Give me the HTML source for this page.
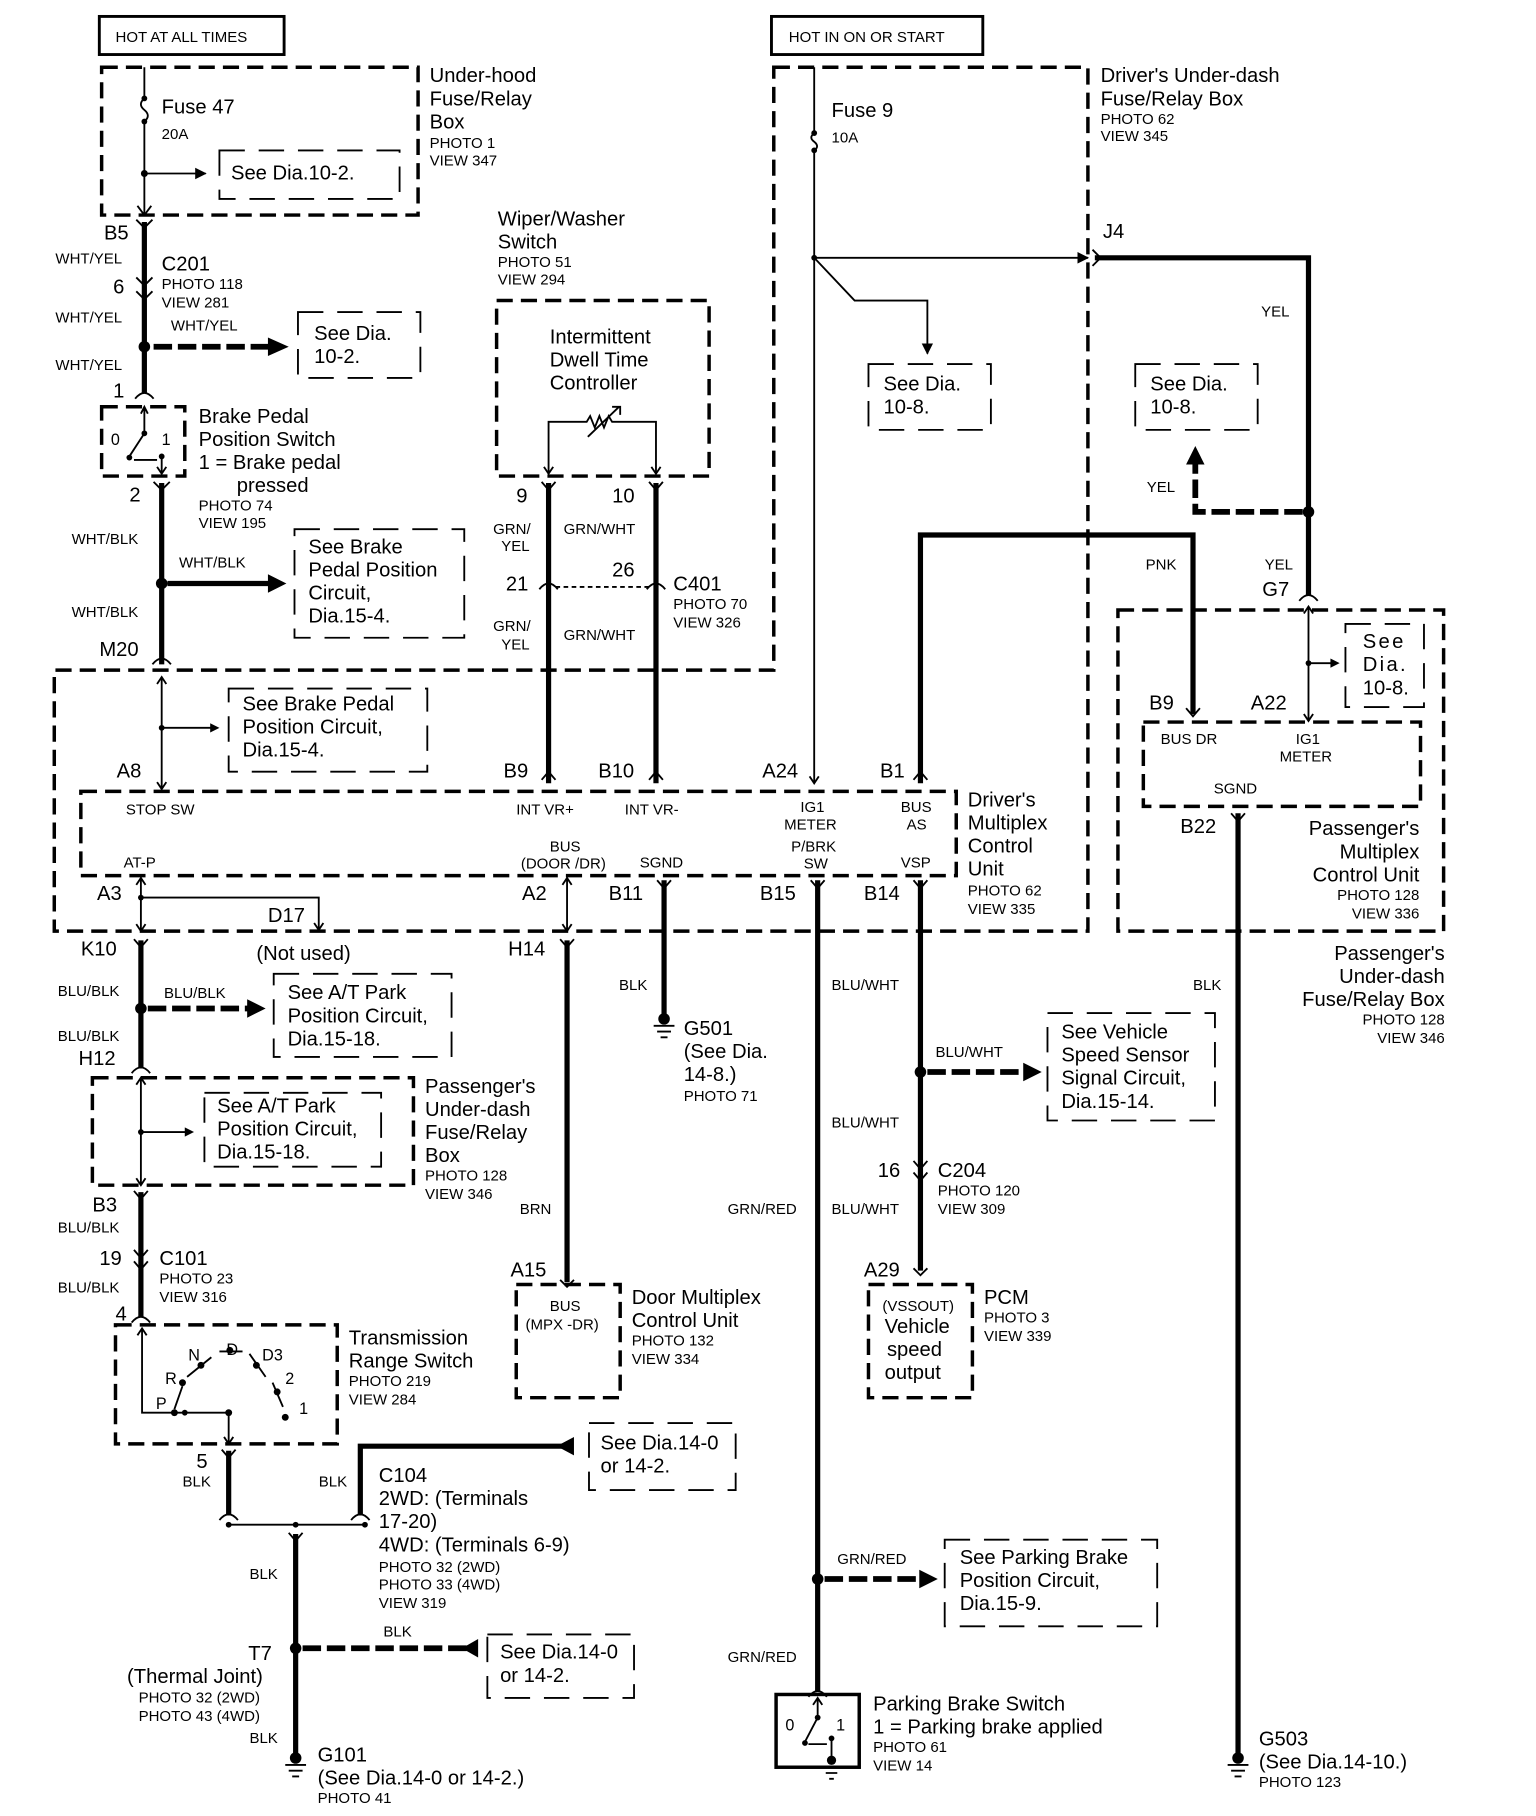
<!DOCTYPE html>
<html><head><meta charset="utf-8"><style>
html,body{margin:0;padding:0;background:#fff}
svg{display:block}
text{font-family:"Liberation Sans",Arial,sans-serif;fill:#000}
.L{font-size:17.5px}
.S{font-size:13px}
.M{font-size:14px}
.w{stroke:#000;stroke-width:4.5;fill:none}
.t{stroke:#000;stroke-width:1.6;fill:none}
.d{stroke:#000;stroke-width:3;fill:none;stroke-dasharray:14,7}
.dl{stroke:#000;stroke-width:1.6;fill:none;stroke-dasharray:22,12}
.dw{stroke:#000;stroke-width:5;fill:none;stroke-dasharray:16,5}
</style></head><body>
<svg width="1536" height="1816" viewBox="0 0 1330 1572" xmlns="http://www.w3.org/2000/svg">
<defs>
<marker id="a" markerWidth="10" markerHeight="10" refX="9" refY="5" orient="auto" markerUnits="userSpaceOnUse"><path d="M0,0 L10,5 L0,10 z"/></marker>
<marker id="A" markerWidth="16" markerHeight="16" refX="15" refY="8" orient="auto" markerUnits="userSpaceOnUse"><path d="M0,0 L16,8 L0,16 z"/></marker>
<marker id="o" markerWidth="12" markerHeight="12" refX="6" refY="1" orient="auto" markerUnits="userSpaceOnUse"><path d="M1,7 L6,1 L11,7" stroke="#000" stroke-width="1.5" fill="none"/></marker>
</defs>
<g>
<!-- top boxes -->
<rect x="86" y="14" width="160" height="33" fill="none" stroke="#000" stroke-width="2.5"/>
<text x="100" y="36" class="S">HOT AT ALL TIMES</text>
<rect x="668" y="14" width="183" height="33" fill="none" stroke="#000" stroke-width="2.5"/>
<text x="683" y="36" class="S">HOT IN ON OR START</text>

<!-- under-hood -->
<rect x="88" y="58" width="274" height="128" class="d"/>
<text class="L" x="372" y="71">Under-hood</text><text class="L" x="372" y="91">Fuse/Relay</text><text class="L" x="372" y="111">Box</text>
<text class="S" x="372" y="128">PHOTO 1</text><text class="S" x="372" y="143">VIEW 347</text>
<path class="t" d="M125,58 V85 M125,105 V185"/>
<path class="t" d="M125,85 q-6,5 0,10 q6,5 0,10"/>
<circle cx="125" cy="85" r="2.5"/><circle cx="125" cy="105" r="2.5"/><circle cx="125" cy="150" r="3"/>
<text class="L" x="140" y="98">Fuse 47</text><text class="S" x="140" y="120">20A</text>
<path class="t" d="M125,150 H178" marker-end="url(#a)"/>
<path class="dl" d="M190,130 H346 V172 H190 Z"/>
<text class="L" x="200" y="155">See Dia.10-2.</text>
<path class="t" d="M119,178 L125,186 L131,178"/>

<!-- B5 wire -->
<path class="w" d="M125,192 V340"/>
<path class="t" d="M118,190 L125,197 L132,190 M118,240 L125,247 L132,240 M118,252 L125,259 L132,252 M117,345 q8,-10 16,0" stroke-width="3"/>
<text class="L" x="90" y="207">B5</text>
<text class="S" x="48" y="228">WHT/YEL</text>
<text class="L" x="140" y="234">C201</text><text class="S" x="140" y="250">PHOTO 118</text><text class="S" x="140" y="266">VIEW 281</text>
<text class="L" x="98" y="254">6</text>
<text class="S" x="48" y="279">WHT/YEL</text><text class="S" x="148" y="286">WHT/YEL</text><text class="S" x="48" y="320">WHT/YEL</text>
<text class="L" x="98" y="344">1</text>
<circle cx="125" cy="300" r="5"/>
<path class="dw" d="M133,300 H240"/><path d="M232,292 L250,300 L232,308 z"/>
<path class="dl" d="M258,270 H364 V327 H258 Z"/>
<text class="L" x="272" y="294">See Dia.</text><text class="L" x="272" y="314">10-2.</text>

<!-- brake pedal switch -->
<rect x="88" y="352" width="72" height="60" class="d"/>
<path class="t" d="M125,352 V375 L112,395 M122,358 L125,352 L128,358 M140,395 V410 M136,404 L140,410 L144,404 M116,398 H136"/>
<circle cx="125" cy="375" r="2.5"/><circle cx="112" cy="396" r="2.5"/><circle cx="140" cy="395" r="2.5"/>
<text class="M" x="96" y="385">0</text><text class="M" x="140" y="385">1</text>
<text class="L" x="172" y="366">Brake Pedal</text><text class="L" x="172" y="386">Position Switch</text><text class="L" x="172" y="406">1 = Brake pedal</text><text class="L" x="205" y="426">pressed</text>
<text class="S" x="172" y="442">PHOTO 74</text><text class="S" x="172" y="457">VIEW 195</text>
<text class="L" x="112" y="434">2</text>
<path class="w" d="M140,418 V575"/>
<path class="t" d="M133,417 L140,424 L147,417 M132,575 q8,-10 16,0" stroke-width="3"/>
<text class="S" x="62" y="471">WHT/BLK</text><text class="S" x="155" y="491">WHT/BLK</text><text class="S" x="62" y="534">WHT/BLK</text>
<text class="L" x="86" y="568">M20</text>
<circle cx="140" cy="505" r="5"/>
<path class="w" d="M145,505 H235"/><path d="M232,497 L248,505 L232,513 z"/>
<path class="dl" d="M255,458 H402 V552 H255 Z"/>
<text class="L" x="267" y="479">See Brake</text><text class="L" x="267" y="499">Pedal Position</text><text class="L" x="267" y="519">Circuit,</text><text class="L" x="267" y="539">Dia.15-4.</text>

<!-- wiper -->
<text class="L" x="431" y="195">Wiper/Washer</text><text class="L" x="431" y="215">Switch</text>
<text class="S" x="431" y="231">PHOTO 51</text><text class="S" x="431" y="246">VIEW 294</text>
<rect x="430" y="260" width="184" height="152" class="d"/>
<text class="L" x="476" y="297">Intermittent</text><text class="L" x="476" y="317">Dwell Time</text><text class="L" x="476" y="337">Controller</text>
<path class="t" d="M475,410 V365 H508 l3,-5 l4,10 l4,-10 l4,10 l4,-10 l3,5 H568 V410 M509,378 L536,352 M530,352 H537 V359"/>
<path class="t" d="M471,404 L475,410 L479,404 M564,404 L568,410 L572,404"/>
<path class="w" d="M475,418 V678 M568,418 V678"/>
<path class="t" stroke-width="3" d="M469,417 L475,424 L481,417 M562,417 L568,424 L574,417 M467,510 q8,-10 16,0 M560,510 q8,-10 16,0 M469,675 L475,668 L481,675 M562,675 L568,668 L574,675"/>
<path class="t" d="M481,508 H562" stroke-dasharray="4,3"/>
<text class="L" x="447" y="435">9</text><text class="L" x="530" y="435">10</text>
<text class="S" x="427" y="462">GRN/</text><text class="S" x="434" y="477">YEL</text><text class="S" x="488" y="462">GRN/WHT</text>
<text class="L" x="438" y="511">21</text><text class="L" x="530" y="499">26</text>
<text class="L" x="583" y="511">C401</text><text class="S" x="583" y="527">PHOTO 70</text><text class="S" x="583" y="543">VIEW 326</text>
<text class="S" x="427" y="546">GRN/</text><text class="S" x="434" y="562">YEL</text><text class="S" x="488" y="554">GRN/WHT</text>

<!-- driver's under-dash outline -->
<path class="d" d="M670,58 H942 V806 H47 V580 H670 Z"/>
<text class="L" x="953" y="71">Driver's Under-dash</text><text class="L" x="953" y="91">Fuse/Relay Box</text>
<text class="S" x="953" y="107">PHOTO 62</text><text class="S" x="953" y="122">VIEW 345</text>
<path class="t" d="M705,58 V115 M705,130 V678"/>
<path class="t" d="M705,115 q-5,4 0,7.5 q5,4 0,7.5"/>
<circle cx="705" cy="115" r="2.5"/><circle cx="705" cy="130" r="2.5"/><circle cx="705" cy="223" r="2.5"/>
<path class="t" d="M701,672 L705,678 L709,672"/>
<text class="L" x="720" y="101">Fuse 9</text><text class="S" x="720" y="123">10A</text>
<path class="t" d="M705,223 H942" marker-end="url(#a)"/>
<path class="t" d="M705,223 L740,260 H803 V306" marker-end="url(#a)"/>
<text class="L" x="955" y="206">J4</text>
<path class="dl" d="M752,315 H858 V372 H752 Z"/>
<text class="L" x="765" y="338">See Dia.</text><text class="L" x="765" y="358">10-8.</text>

<path class="w" d="M948,223 H1133 V515"/>
<path class="t" stroke-width="3" d="M946,216 L953,223 L946,230 M1125,520 q8,-10 16,0"/>
<text class="S" x="1092" y="274">YEL</text>
<circle cx="1133" cy="443" r="5"/>
<path class="dw" d="M1128,443 H1035 V400"/><path d="M1027,402 L1035,386 L1043,402 z"/>
<text class="S" x="993" y="426">YEL</text>
<path class="dl" d="M983,315 H1089 V372 H983 Z"/>
<text class="L" x="996" y="338">See Dia.</text><text class="L" x="996" y="358">10-8.</text>
<text class="S" x="1095" y="493">YEL</text><text class="L" x="1093" y="516">G7</text>

<path class="w" d="M797,678 V463 H1033 V618"/>
<path class="t" stroke-width="3" d="M791,675 L797,668 L803,675 M1027,613 L1033,620 L1039,613"/>
<text class="S" x="992" y="493">PNK</text>

<!-- driver's multiplex -->
<rect x="70" y="685" width="758" height="73" class="d"/>
<g class="S">
<text x="109" y="705">STOP SW</text><text x="447" y="705">INT VR+</text><text x="541" y="705">INT VR-</text>
<text x="693" y="703">IG1</text><text x="679" y="718">METER</text><text x="780" y="703">BUS</text><text x="785" y="718">AS</text>
<text x="107" y="751">AT-P</text><text x="476" y="737">BUS</text><text x="451" y="752">(DOOR /DR)</text><text x="554" y="751">SGND</text>
<text x="685" y="737">P/BRK</text><text x="696" y="752">SW</text><text x="780" y="751">VSP</text>
</g>
<g class="L">
<text x="101" y="673">A8</text><text x="436" y="673">B9</text><text x="518" y="673">B10</text><text x="660" y="673">A24</text><text x="762" y="673">B1</text>
<text x="84" y="779">A3</text><text x="452" y="779">A2</text><text x="527" y="779">B11</text><text x="658" y="779">B15</text><text x="748" y="779">B14</text>
<text x="838" y="698">Driver's</text><text x="838" y="718">Multiplex</text><text x="838" y="738">Control</text><text x="838" y="758">Unit</text>
</g>
<text class="S" x="838" y="775">PHOTO 62</text><text class="S" x="838" y="791">VIEW 335</text>

<path class="t" d="M140,586 V683 M136,592 L140,586 L144,592 M136,677 L140,683 L144,677 M140,630 H188" />
<circle cx="140" cy="630" r="2.5"/><path d="M182,626 L190,630 L182,634z"/>
<path class="dl" d="M198,596 H370 V668 H198 Z"/>
<text class="L" x="210" y="615">See Brake Pedal</text><text class="L" x="210" y="635">Position  Circuit,</text><text class="L" x="210" y="655">Dia.15-4.</text>

<path class="t" d="M122,760 V806 M118,766 L122,760 L126,766 M118,800 L122,806 L126,800 M122,777 H276 V805 M272,799 L276,805 L280,799"/>
<circle cx="122" cy="777" r="2.5"/>
<text class="L" x="232" y="798">D17</text><text class="L" x="222" y="831">(Not used)</text>
<text class="L" x="70" y="827">K10</text>
<path class="w" d="M122,814 V925"/>
<path class="t" stroke-width="3" d="M116,813 L122,820 L128,813 M114,929 q8,-10 16,0"/>
<text class="S" x="50" y="862">BLU/BLK</text><text class="S" x="142" y="864">BLU/BLK</text><text class="S" x="50" y="901">BLU/BLK</text>
<text class="L" x="68" y="922">H12</text>
<circle cx="122" cy="873" r="5"/>
<path class="dw" d="M128,873 H218"/><path d="M214,865 L230,873 L214,881z"/>
<path class="dl" d="M237,843 H391 V915 H237 Z"/>
<text class="L" x="249" y="865">See A/T Park</text><text class="L" x="249" y="885">Position Circuit,</text><text class="L" x="249" y="905">Dia.15-18.</text>

<rect x="80" y="933" width="278" height="93" class="d"/>
<path class="t" d="M122,933 V1026 M118,939 L122,933 L126,939 M118,1020 L122,1026 L126,1020 M122,980 H166"/>
<circle cx="122" cy="980" r="2.5"/><path d="M160,976 L168,980 L160,984z"/>
<path class="dl" d="M177,946 H330 V1010 H177 Z"/>
<text class="L" x="188" y="963">See A/T Park</text><text class="L" x="188" y="983">Position Circuit,</text><text class="L" x="188" y="1003">Dia.15-18.</text>
<text class="L" x="368" y="946">Passenger's</text><text class="L" x="368" y="966">Under-dash</text><text class="L" x="368" y="986">Fuse/Relay</text><text class="L" x="368" y="1006">Box</text>
<text class="S" x="368" y="1022">PHOTO 128</text><text class="S" x="368" y="1038">VIEW 346</text>
<text class="L" x="80" y="1049">B3</text><text class="S" x="50" y="1067">BLU/BLK</text>
<path class="w" d="M122,1032 V1140"/>
<path class="t" stroke-width="3" d="M116,1031 L122,1038 L128,1031 M116,1082 L122,1089 L128,1082 M116,1092 L122,1099 L128,1092 M114,1145 q8,-10 16,0"/>
<text class="L" x="86" y="1095">19</text><text class="L" x="138" y="1095">C101</text>
<text class="S" x="138" y="1111">PHOTO 23</text><text class="S" x="138" y="1127">VIEW 316</text>
<text class="S" x="50" y="1119">BLU/BLK</text><text class="L" x="100" y="1143">4</text>

<!-- trans range switch -->
<rect x="100" y="1147" width="192" height="103" class="d"/>
<text class="L" x="302" y="1164">Transmission</text><text class="L" x="302" y="1184">Range Switch</text>
<text class="S" x="302" y="1200">PHOTO 219</text><text class="S" x="302" y="1216">VIEW 284</text>
<path class="t" d="M123,1150 V1223 H198 M119,1156 L123,1150 L127,1156 M198,1223 V1250 M194,1244 L198,1250 L202,1244 M151,1220 L158,1200 M162,1192 L183,1175 M190,1170 L210,1170 M216,1172 L230,1192 M236,1197 L245,1218"/>
<circle cx="151" cy="1223" r="3"/><circle cx="160" cy="1223" r="2.5"/><circle cx="198" cy="1223" r="3"/><circle cx="158" cy="1197" r="3"/><circle cx="174" cy="1182" r="3"/><circle cx="199" cy="1169" r="3"/><circle cx="222" cy="1182" r="3"/><circle cx="240" cy="1205" r="3"/><circle cx="247" cy="1227" r="3"/>
<g class="M"><text x="163" y="1178">N</text><text x="196" y="1173">D</text><text x="227" y="1178">D3</text><text x="143" y="1198">R</text><text x="247" y="1198">2</text><text x="135" y="1220">P</text><text x="259" y="1224">1</text></g>
<path class="w" d="M198,1256 V1312 M312,1312 V1252 H490"/>
<path d="M497,1244 L482,1252 L497,1260 z"/>
<path class="t" stroke-width="3" d="M192,1255 L198,1262 L204,1255 M190,1316 q8,-10 16,0 M304,1316 q8,-10 16,0"/>
<path class="t" d="M198,1320 H316"/>
<circle cx="198" cy="1320" r="2.5"/><circle cx="256" cy="1320" r="2.5"/><circle cx="316" cy="1320" r="2.5"/>
<text class="L" x="170" y="1271">5</text><text class="S" x="158" y="1287">BLK</text><text class="S" x="276" y="1287">BLK</text>
<path class="dl" d="M510,1232 H637 V1290 H510 Z"/>
<text class="L" x="520" y="1255">See Dia.14-0</text><text class="L" x="520" y="1275">or 14-2.</text>
<text class="L" x="328" y="1283">C104</text><text class="L" x="328" y="1303">2WD: (Terminals</text><text class="L" x="328" y="1323">17-20)</text><text class="L" x="328" y="1343">4WD: (Terminals 6-9)</text>
<text class="S" x="328" y="1361">PHOTO 32 (2WD)</text><text class="S" x="328" y="1376">PHOTO 33 (4WD)</text><text class="S" x="328" y="1392">VIEW 319</text>
<path class="w" d="M256,1328 V1520"/>
<path class="t" stroke-width="3" d="M250,1327 L256,1334 L262,1327"/>
<text class="S" x="216" y="1367">BLK</text>
<circle cx="256" cy="1427" r="5"/>
<path class="dw" d="M262,1427 H406"/><path d="M414,1419 L400,1427 L414,1435z"/>
<text class="S" x="332" y="1417">BLK</text>
<path class="dl" d="M422,1415 H549 V1470 H422 Z"/>
<text class="L" x="433" y="1436">See Dia.14-0</text><text class="L" x="433" y="1456">or 14-2.</text>
<text class="L" x="215" y="1437">T7</text><text class="L" x="110" y="1457">(Thermal Joint)</text>
<text class="S" x="120" y="1474">PHOTO 32 (2WD)</text><text class="S" x="120" y="1490">PHOTO 43 (4WD)</text><text class="S" x="216" y="1509">BLK</text>
<circle cx="256" cy="1522" r="5"/><path class="t" stroke-width="2" d="M247,1528 H265 M250,1533 H262 M253,1538 H259"/>
<text class="L" x="275" y="1525">G101</text><text class="L" x="275" y="1545">(See Dia.14-0 or 14-2.)</text><text class="S" x="275" y="1561">PHOTO 41</text>

<!-- H14 door -->
<path class="t" d="M491,760 V806 M487,766 L491,760 L495,766 M487,800 L491,806 L495,800"/>
<text class="L" x="440" y="827">H14</text>
<path class="w" d="M491,814 V1110"/>
<path class="t" stroke-width="3" d="M485,813 L491,820 L497,813 M485,1108 L491,1114 L497,1108"/>
<text class="S" x="450" y="1051">BRN</text><text class="L" x="442" y="1105">A15</text>
<rect x="447" y="1112" width="90" height="98" class="d"/>
<text class="S" x="476" y="1135">BUS</text><text class="S" x="455" y="1151">(MPX -DR)</text>
<text class="L" x="547" y="1129">Door Multiplex</text><text class="L" x="547" y="1149">Control Unit</text>
<text class="S" x="547" y="1165">PHOTO 132</text><text class="S" x="547" y="1181">VIEW 334</text>

<!-- B11 -->
<path class="w" d="M575,762 V880"/>
<path class="t" stroke-width="3" d="M569,762 L575,769 L581,762"/>
<text class="S" x="536" y="857">BLK</text>
<circle cx="575" cy="882" r="5"/><path class="t" stroke-width="2" d="M566,888 H584 M569,893 H581 M572,898 H578"/>
<text class="L" x="592" y="896">G501</text><text class="L" x="592" y="916">(See Dia.</text><text class="L" x="592" y="936">14-8.)</text><text class="S" x="592" y="953">PHOTO 71</text>

<!-- B15 -->
<path class="w" d="M708,762 V1465"/>
<path class="t" stroke-width="3" d="M702,762 L708,769 L714,762 M700,1469 q8,-10 16,0"/>
<text class="S" x="630" y="1051">GRN/RED</text>
<circle cx="708" cy="1367" r="5"/>
<path class="dw" d="M714,1367 H800"/><path d="M796,1359 L812,1367 L796,1375z"/>
<text class="S" x="725" y="1354">GRN/RED</text>
<path class="dl" d="M818,1333 H1002 V1408 H818 Z"/>
<text class="L" x="831" y="1354">See Parking Brake</text><text class="L" x="831" y="1374">Position Circuit,</text><text class="L" x="831" y="1394">Dia.15-9.</text>
<text class="S" x="630" y="1439">GRN/RED</text>
<rect x="672" y="1467" width="72" height="63" fill="none" stroke="#000" stroke-width="3"/>
<path class="t" d="M708,1470 V1487 L697,1508 M704,1476 L708,1470 L712,1476 M720,1505 V1522 M700,1510 H716"/>
<circle cx="708" cy="1487" r="2.5"/><circle cx="697" cy="1509" r="2.5"/><circle cx="720" cy="1505" r="2.5"/>
<circle cx="720" cy="1524" r="4"/><path class="t" stroke-width="2" d="M712,1530 H728 M715,1535 H725 M718,1540 H722"/>
<text class="M" x="680" y="1498">0</text><text class="M" x="724" y="1498">1</text>
<text class="L" x="756" y="1481">Parking Brake Switch</text><text class="L" x="756" y="1501">1 = Parking brake applied</text>
<text class="S" x="756" y="1517">PHOTO 61</text><text class="S" x="756" y="1533">VIEW 14</text>

<!-- B14 -->
<path class="w" d="M797,762 V1100"/>
<path class="t" stroke-width="3" d="M791,762 L797,769 L803,762 M791,1005 L797,1012 L803,1005 M791,1015 L797,1022 L803,1015 M791,1098 L797,1104 L803,1098"/>
<text class="S" x="720" y="857">BLU/WHT</text>
<circle cx="797" cy="928" r="5"/>
<path class="dw" d="M803,928 H890"/><path d="M886,920 L902,928 L886,936z"/>
<text class="S" x="810" y="915">BLU/WHT</text>
<path class="dl" d="M907,877 H1052 V970 H907 Z"/>
<text class="L" x="919" y="899">See Vehicle</text><text class="L" x="919" y="919">Speed Sensor</text><text class="L" x="919" y="939">Signal Circuit,</text><text class="L" x="919" y="959">Dia.15-14.</text>
<text class="S" x="720" y="976">BLU/WHT</text>
<text class="L" x="760" y="1019">16</text><text class="L" x="812" y="1019">C204</text>
<text class="S" x="812" y="1035">PHOTO 120</text><text class="S" x="812" y="1051">VIEW 309</text>
<text class="S" x="720" y="1051">BLU/WHT</text><text class="L" x="748" y="1105">A29</text>
<rect x="752" y="1112" width="90" height="98" class="d"/>
<text class="S" x="764" y="1135">(VSSOUT)</text>
<text class="L" x="766" y="1154">Vehicle</text><text class="L" x="768" y="1174">speed</text><text class="L" x="766" y="1194">output</text>
<text class="L" x="852" y="1129">PCM</text><text class="S" x="852" y="1145">PHOTO 3</text><text class="S" x="852" y="1161">VIEW 339</text>

<!-- passenger multiplex -->
<rect x="968" y="528" width="282" height="278" class="d"/>
<rect x="990" y="625" width="240" height="73" class="d"/>
<text class="L" x="995" y="614">B9</text><text class="L" x="1083" y="614">A22</text>
<text class="S" x="1005" y="644">BUS DR</text><text class="S" x="1122" y="644">IG1</text><text class="S" x="1108" y="659">METER</text><text class="S" x="1051" y="687">SGND</text>
<text class="L" x="1022" y="721">B22</text>
<path class="t" d="M1133,525 V624 M1129,531 L1133,525 L1137,531 M1129,618 L1133,624 L1137,618 M1133,574 H1158"/>
<circle cx="1133" cy="574" r="2.5"/><path d="M1152,570 L1160,574 L1152,578z"/>
<path class="dl" d="M1165,540 H1233 V612 H1165 Z"/>
<text class="L" x="1180" y="561" letter-spacing="2">See</text><text class="L" x="1180" y="581" letter-spacing="2">Dia.</text><text class="L" x="1180" y="601">10-8.</text>
<g class="L" text-anchor="end"><text x="1229" y="723">Passenger's</text><text x="1229" y="743">Multiplex</text><text x="1229" y="763">Control Unit</text></g>
<g class="S" text-anchor="end"><text x="1229" y="779">PHOTO 128</text><text x="1229" y="795">VIEW 336</text></g>
<g class="L" text-anchor="end"><text x="1251" y="831">Passenger's</text><text x="1251" y="851">Under-dash</text><text x="1251" y="871">Fuse/Relay Box</text></g>
<g class="S" text-anchor="end"><text x="1251" y="887">PHOTO 128</text><text x="1251" y="903">VIEW 346</text></g>
<path class="w" d="M1072,704 V1520"/>
<path class="t" stroke-width="3" d="M1066,704 L1072,711 L1078,704"/>
<text class="S" x="1033" y="857">BLK</text>
<circle cx="1072" cy="1522" r="5"/><path class="t" stroke-width="2" d="M1063,1528 H1081 M1066,1533 H1078 M1069,1538 H1075"/>
<text class="L" x="1090" y="1511">G503</text><text class="L" x="1090" y="1531">(See Dia.14-10.)</text><text class="S" x="1090" y="1547">PHOTO 123</text>
</g>
</svg>
</body></html>
